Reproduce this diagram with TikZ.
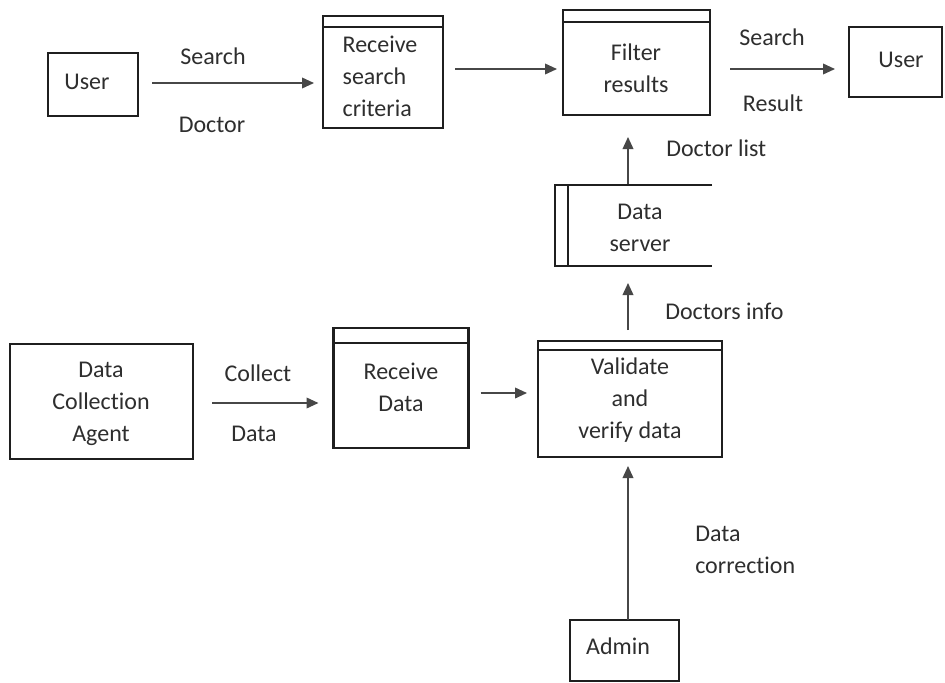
\documentclass[tikz,border=0pt]{standalone}
\usepackage{fontspec}
\setmainfont{Carlito}[RawFeature={-liga,-clig,-dlig,-hlig,-calt}]
\usetikzlibrary{arrows.meta,calc}
\newcommand\pxu{0.75pt}
% keeps c and t apart (the font would join them)
\newcommand\nolig{\kern0pt{}}
\tikzset{
  x=0.75pt, y=-0.75pt,
  txt/.style={inner sep=0pt, align=center, text=black!82,
    font=\fontsize{18}{24}\selectfont},
  boxfr/.style 2 args={draw=black!88, line width=1.6pt, inner sep=0pt, outer sep=0pt,
    minimum width=#1*\pxu, minimum height=#2*\pxu},
  arr/.style={draw=black!72, line width=1.2pt,
    -{Triangle[length=9pt,width=8pt]}},
  band/.style={draw=black!88, line width=1.4pt}
}
\begin{document}
\begin{tikzpicture}
\useasboundingbox (0,0) rectangle (945,682);

% external entities
\node[boxfr={90}{63}] (userL) at (93,84.5) {};
\node[txt] at (87,82) {User};
\node[boxfr={93}{70}] (userR) at (895.5,62) {};
\node[txt] at (901,60) {User};
\node[boxfr={183}{115}] (dca) at (101.5,401.5) {};
\node[txt] at (101,404) {Data\\Collec\nolig tion\\Agent};
\node[boxfr={109}{61}] (admin) at (624.5,650.5) {};
\node[txt] at (618,646) {Admin};

% processes (box with a header band)
\node[boxfr={120}{112}] (rsc) at (383,72) {};
\draw[band] ([yshift=-11*\pxu]rsc.north west) -- ([yshift=-11*\pxu]rsc.north east);
\node[txt, align=left] at (380,76) {Receive\\search\\criteria};

\node[boxfr={147}{105}] (filter) at (636.5,62.5) {};
\draw[band] ([yshift=-12*\pxu]filter.north west) -- ([yshift=-12*\pxu]filter.north east);
\node[txt] at (636,68) {Filter\\results};

\node[boxfr={135}{120}] (recv) at (401,388) {};
\draw[band] ([yshift=-15*\pxu]recv.north west) -- ([yshift=-15*\pxu]recv.north east);
\node[txt] at (401,387) {Receive\\Data};

\node[boxfr={184}{116}] (valid) at (630,399) {};
\draw[band] ([yshift=-9*\pxu]valid.north west) -- ([yshift=-9*\pxu]valid.north east);
\node[txt] at (630,400) {Validate\\and\\verify data};

% data store (open on the right)
\coordinate (dsTL) at (555,185);
\coordinate (dsBR) at (712,266);
\draw[black!88, line width=1.6pt] (dsTL -| dsBR) -- (dsTL) -- (dsTL |- dsBR) -- (dsBR);
\draw[black!88, line width=1.4pt] ([xshift=13*\pxu]dsTL) -- ([xshift=13*\pxu]dsTL |- dsBR);
\node[txt] (ds) at (640,228) {Data\\server};

% flows
\draw[arr] (userL.east |- 0,83) ++(14,0) -- (rsc.west |- 0,83) [shorten >=9*\pxu];
\node[txt] at (213,56) {Search};
\node[txt] at (212,125) {Doctor};

\draw[arr, shorten <=12*\pxu, shorten >=6*\pxu] (rsc.east |- 0,69) -- (filter.west |- 0,69);

\draw[arr, shorten <=20*\pxu, shorten >=14*\pxu] (filter.east |- 0,69) -- (userR.west |- 0,69);
\node[txt] at (772,37) {Search};
\node[txt] at (773,103) {Result};

\draw[arr, shorten <=1*\pxu, shorten >=22*\pxu] (628,0 |- dsTL) -- (628,0 |- filter.south);
\node[txt, anchor=west] at (666,148) {Doctor list};

\draw[arr, shorten <=11*\pxu, shorten >=17*\pxu] (628,0 |- valid.north) -- (628,0 |- dsBR);
\node[txt, anchor=west] at (665,311) {Doctors info};

\draw[arr, shorten <=19*\pxu, shorten >=15*\pxu] (dca.east |- 0,403) -- (recv.west |- 0,403);
\node[txt] at (258,373) {Collect};
\node[txt] at (254,434) {Data};

\draw[arr, shorten <=12*\pxu, shorten >=11*\pxu] (recv.east |- 0,393) -- (valid.west |- 0,393);

\draw[arr, shorten >=9*\pxu] (628,0 |- admin.north) -- (628,0 |- valid.south);
\node[txt, align=left, anchor=west] at (695,550) {Data\\correc\nolig tion};
\end{tikzpicture}
\end{document}
